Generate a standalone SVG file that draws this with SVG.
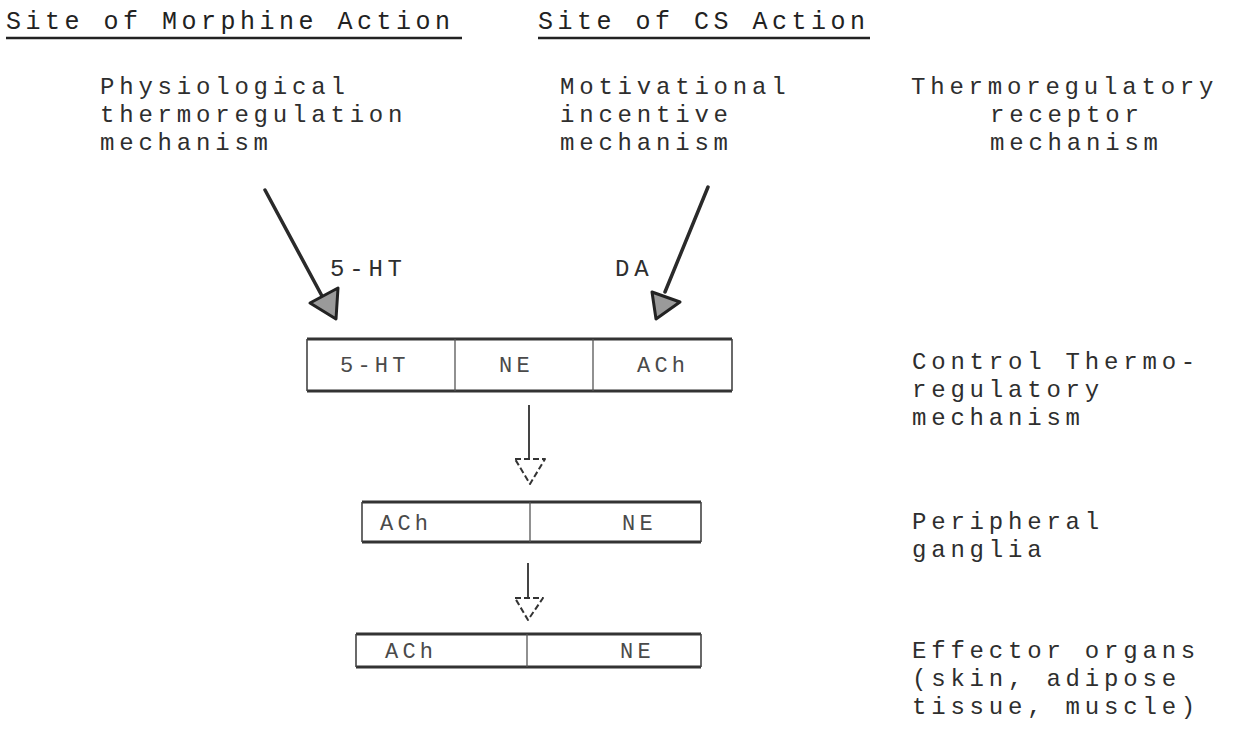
<svg xmlns="http://www.w3.org/2000/svg" width="1241" height="736" viewBox="0 0 1241 736">
  <style>
    .t { font-family: "Liberation Mono", "DejaVu Sans Mono", monospace; font-size: 24px; letter-spacing: 4.8px; fill: #2e2e2e; }
    .h { font-size: 25px; letter-spacing: 4.5px; fill: #222; }
    .b { font-size: 22px; letter-spacing: 4.2px; fill: #4a4a4a; }
    .ul { stroke: #222; stroke-width: 2.6; }
    .edge { stroke: #333; stroke-width: 3; }
    .side { stroke: #444; stroke-width: 1.6; }
    .div { stroke: #555; stroke-width: 1.3; }
    .shaft { stroke: #2a2a2a; stroke-width: 3.5; stroke-linecap: round; fill: none; }
    .vshaft { stroke: #444; stroke-width: 2; fill: none; }
    .solid-head { fill: #9a9a9a; stroke: #222; stroke-width: 3; stroke-linejoin: round; }
    .open-head { fill: #fff; stroke: #333; stroke-width: 2; stroke-linejoin: round; stroke-dasharray: 6 3; }
  </style>
  <rect width="1241" height="736" fill="#fff"/>

  <!-- column headings -->
  <g id="heading-morphine">
    <text class="t h" x="6" y="29">Site of Morphine Action</text>
    <line class="ul" x1="6" y1="38" x2="462" y2="38"/>
  </g>
  <g id="heading-cs">
    <text class="t h" x="538" y="29">Site of CS Action</text>
    <line class="ul" x1="538" y1="38" x2="870" y2="38"/>
  </g>

  <!-- upper mechanisms -->
  <g id="physiological">
    <text class="t" x="100" y="94">Physiological</text>
    <text class="t" x="100" y="122">thermoregulation</text>
    <text class="t" x="100" y="150">mechanism</text>
  </g>
  <g id="motivational">
    <text class="t" x="560" y="94">Motivational</text>
    <text class="t" x="560" y="122">incentive</text>
    <text class="t" x="560" y="150">mechanism</text>
  </g>
  <g id="receptor">
    <text class="t" x="911" y="94">Thermoregulatory</text>
    <text class="t" x="990" y="122">receptor</text>
    <text class="t" x="990" y="150">mechanism</text>
  </g>

  <!-- transmitter boxes: heavy top/bottom rules, light sides -->
  <g id="control-box">
    <rect x="307" y="339" width="425" height="52" fill="#fff"/>
    <line class="edge" x1="307" y1="339" x2="732" y2="339"/>
    <line class="edge" x1="307" y1="391" x2="732" y2="391"/>
    <line class="side" x1="307" y1="339" x2="307" y2="391"/>
    <line class="side" x1="732" y1="339" x2="732" y2="391"/>
    <line class="div" x1="455" y1="339" x2="455" y2="391"/>
    <line class="div" x1="593" y1="339" x2="593" y2="391"/>
    <text class="t b" x="340" y="372">5-HT</text>
    <text class="t b" x="499" y="372">NE</text>
    <text class="t b" x="637" y="372">ACh</text>
  </g>
  <g id="ganglia-box">
    <rect x="362" y="502" width="339" height="40" fill="#fff"/>
    <line class="edge" x1="362" y1="502" x2="701" y2="502"/>
    <line class="edge" x1="362" y1="542" x2="701" y2="542"/>
    <line class="side" x1="362" y1="502" x2="362" y2="542"/>
    <line class="side" x1="701" y1="502" x2="701" y2="542"/>
    <line class="div" x1="530" y1="502" x2="530" y2="542"/>
    <text class="t b" x="380" y="530">ACh</text>
    <text class="t b" x="622" y="530">NE</text>
  </g>
  <g id="effector-box">
    <rect x="356" y="634" width="345" height="33" fill="#fff"/>
    <line class="edge" x1="356" y1="634" x2="701" y2="634"/>
    <line class="edge" x1="356" y1="667" x2="701" y2="667"/>
    <line class="side" x1="356" y1="634" x2="356" y2="667"/>
    <line class="side" x1="701" y1="634" x2="701" y2="667"/>
    <line class="div" x1="527" y1="634" x2="527" y2="667"/>
    <text class="t b" x="385" y="658">ACh</text>
    <text class="t b" x="620" y="658">NE</text>
  </g>

  <!-- level labels on the right -->
  <g id="control-label">
    <text class="t" x="912" y="369">Control Thermo-</text>
    <text class="t" x="912" y="397">regulatory</text>
    <text class="t" x="912" y="425">mechanism</text>
  </g>
  <g id="ganglia-label">
    <text class="t" x="912" y="529">Peripheral</text>
    <text class="t" x="912" y="557">ganglia</text>
  </g>
  <g id="effector-label">
    <text class="t" x="912" y="658">Effector organs</text>
    <text class="t" x="912" y="686">(skin, adipose</text>
    <text class="t" x="912" y="714">tissue, muscle)</text>
  </g>

  <!-- connectors -->
  <g id="connectors">
    <line class="shaft" x1="265" y1="190" x2="322" y2="296"/>
    <polygon class="solid-head" points="310,303 338,288 336,319"/>
    <text class="t" x="330" y="276">5-HT</text>

    <line class="shaft" x1="708" y1="187" x2="665" y2="292"/>
    <polygon class="solid-head" points="652,292 680,302 656,319"/>
    <text class="t" x="615" y="276">DA</text>

    <line class="vshaft" x1="529" y1="405" x2="529" y2="460"/>
    <polygon class="open-head" points="515,459 545,459 530,484"/>

    <line class="vshaft" x1="528" y1="563" x2="528" y2="598"/>
    <polygon class="open-head" points="515,598 543,598 528,620"/>
  </g>
</svg>
